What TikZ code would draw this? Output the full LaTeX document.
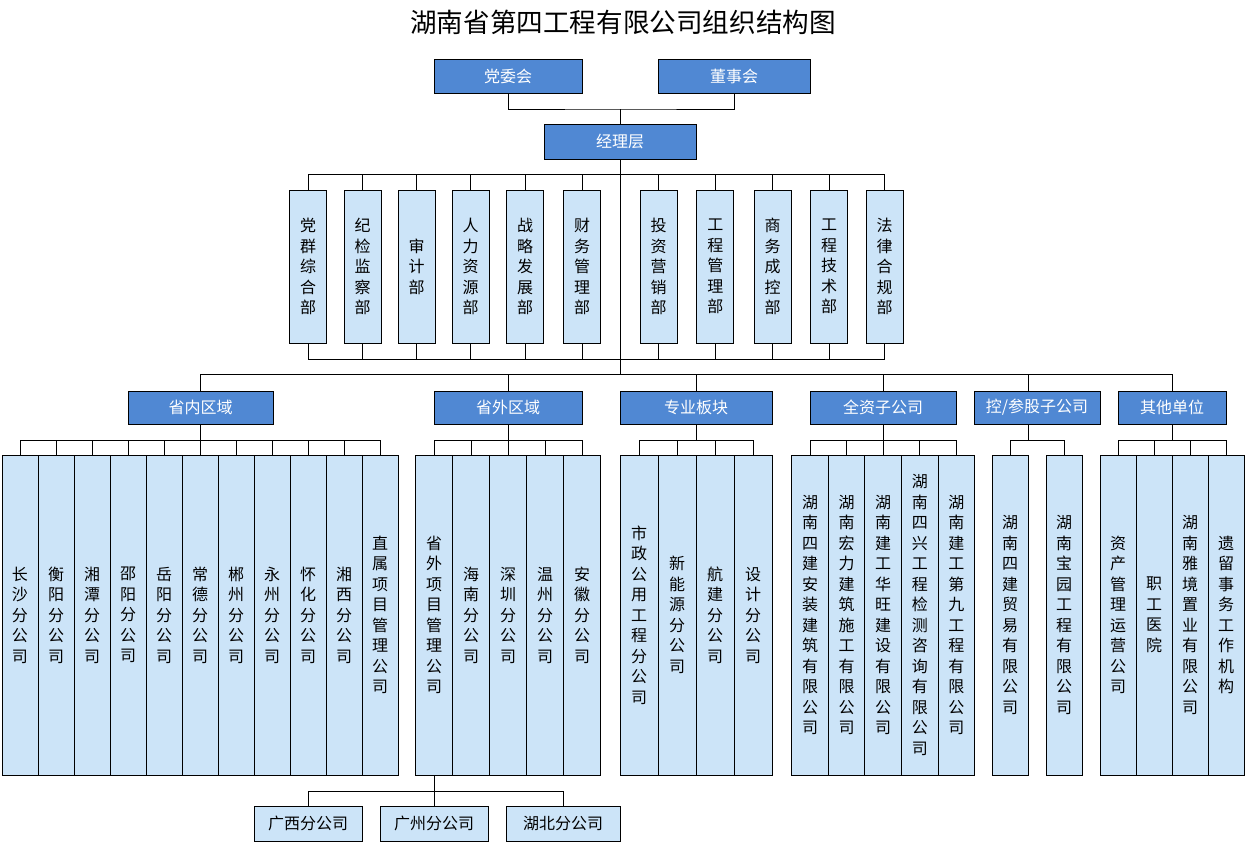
\documentclass[tikz,border=0pt]{standalone}
\usepackage{fontspec}
\setmainfont{Noto Sans CJK SC}
\usetikzlibrary{positioning}
\definecolor{headblue}{RGB}{80,136,211}
\definecolor{leafblue}{RGB}{204,228,248}

\begin{document}
\begin{tikzpicture}[x=1pt, y=-1pt, line width=1pt,
    head/.style={draw, rectangle, fill=headblue, text=white, inner sep=0pt, minimum height=34pt, font=\fontsize{16}{19}\selectfont},
    vbox/.style={draw, rectangle, fill=leafblue, inner sep=0pt, minimum width=36pt, align=center, font=\fontsize{16}{20.5}\selectfont},
    subbox/.style={draw, rectangle, fill=leafblue, inner sep=0pt, minimum height=35pt, font=\fontsize{16}{19}\selectfont}]
    \useasboundingbox (0,0) rectangle (1247,844);
    % Organisation chart
    \node[font=\fontsize{26.6}{30}\selectfont] (title) at (623,22) {湖南省第四工程有限公司组织结构图};

    \node[head, minimum width=148pt] (dw) at (508,76) {党委会};
    \node[head, minimum width=152pt] (dsh) at (734,76) {董事会};
    \node[head, minimum width=152pt, minimum height=35pt] (jl) at (620,141.5) {经理层};

    \coordinate (top) at (620,109);
    \coordinate (dtop) at (620,174);
    \coordinate (dbot) at (620,359);
    \coordinate (mid) at (620,374);
    \coordinate (sb) at (620,440);
    \coordinate (bb) at (620,791);

    \draw (dw.south) |- (top) -| (dsh.south);
    \draw (top) -- (jl.north);
    \draw (jl.south) -- (mid);

    % departments
    \foreach \x/\t [count=\i] in {308/{党\\群\\综\\合\\部}, 362.5/{纪\\检\\监\\察\\部}, 416.5/{审\\计\\部},
        470.5/{人\\力\\资\\源\\部}, 525/{战\\略\\发\\展\\部}, 582/{财\\务\\管\\理\\部},
        658.5/{投\\资\\营\\销\\部}, 715.3/{工\\程\\管\\理\\部}, 772.5/{商\\务\\成\\控\\部},
        829/{工\\程\\技\\术\\部}, 884.5/{法\\律\\合\\规\\部}}
        \node[vbox, minimum width=37pt, minimum height=153pt] (d\i) at (\x,266.5) {\t};
    \draw (d1.north |- dtop) -- (d11.north |- dtop);
    \draw (d1.south |- dbot) -- (d11.south |- dbot);
    \foreach \i in {1,...,11} {
        \draw (d\i.north) -- (d\i.north |- dtop);
        \draw (d\i.south) -- (d\i.south |- dbot);
    }

    % regions
    \node[head, minimum width=145pt, minimum height=33pt] (r1) at (200.5,407.5) {省内区域};
    \node[head, minimum width=148pt, minimum height=33pt] (r2) at (508,407.5) {省外区域};
    \node[head, minimum width=152pt, minimum height=33pt] (r3) at (696,407.5) {专业板块};
    \node[head, minimum width=146pt, minimum height=33pt] (r4) at (883,407.5) {全资子公司};
    \node[head, minimum width=126pt, minimum height=33pt] (r5) at (1037,407.5) {控/参股子公司};
    \node[head, minimum width=108pt, minimum height=33pt] (r6) at (1172,407.5) {其他单位};
    \coordinate (r5n) at ([xshift=-9pt]r5.north);
    \coordinate (r5s) at ([xshift=-9pt]r5.south);

    \draw (r1.north |- mid) -- (r6.north |- mid);
    \foreach \i in {1,2,3,4,6}
        \draw (r\i.north) -- (r\i.north |- mid);
    \draw (r5n) -- (r5n |- mid);

    % leaves
    \foreach \t [count=\i] in {{长\\沙\\分\\公\\司}, {衡\\阳\\分\\公\\司}, {湘\\潭\\分\\公\\司},
        {邵\\阳\\分\\公\\司}, {岳\\阳\\分\\公\\司}, {常\\德\\分\\公\\司}, {郴\\州\\分\\公\\司},
        {永\\州\\分\\公\\司}, {怀\\化\\分\\公\\司}, {湘\\西\\分\\公\\司}, {直\\属\\项\\目\\管\\理\\公\\司}}
        \node[vbox, minimum height=320pt] (a\i) at ({20+36*(\i-1)},615) {\t};
    \foreach \t [count=\i] in {{省\\外\\项\\目\\管\\理\\公\\司}, {海\\南\\分\\公\\司}, {深\\圳\\分\\公\\司},
        {温\\州\\分\\公\\司}, {安\\徽\\分\\公\\司}}
        \node[vbox, minimum width=37pt, minimum height=320pt] (b\i) at ({434+37*(\i-1)},615) {\t};
    \foreach \t [count=\i] in {{市\\政\\公\\用\\工\\程\\分\\公\\司}, {新\\能\\源\\分\\公\\司},
        {航\\建\\分\\公\\司}, {设\\计\\分\\公\\司}}
        \node[vbox, minimum width=38pt, minimum height=320pt] (c\i) at ({639+38*(\i-1)},615) {\t};
    \foreach \t [count=\i] in {{湖\\南\\四\\建\\安\\装\\建\\筑\\有\\限\\公\\司}, {湖\\南\\宏\\力\\建\\筑\\施\\工\\有\\限\\公\\司},
        {湖\\南\\建\\工\\华\\旺\\建\\设\\有\\限\\公\\司}, {湖\\南\\四\\兴\\工\\程\\检\\测\\咨\\询\\有\\限\\公\\司},
        {湖\\南\\建\\工\\第\\九\\工\\程\\有\\限\\公\\司}}
        \node[vbox, minimum width=36.6pt, minimum height=320pt] (e\i) at ({810+36.6*(\i-1)},615) {\t};
    \node[vbox, minimum height=320pt] (f1) at (1010,615) {湖\\南\\四\\建\\贸\\易\\有\\限\\公\\司};
    \node[vbox, minimum height=320pt] (f2) at (1064,615) {湖\\南\\宝\\园\\工\\程\\有\\限\\公\\司};
    \foreach \t [count=\i] in {{资\\产\\管\\理\\运\\营\\公\\司}, {职\\工\\医\\院},
        {湖\\南\\雅\\境\\置\\业\\有\\限\\公\\司}, {遗\\留\\事\\务\\工\\作\\机\\构}}
        \node[vbox, minimum height=320pt] (g\i) at ({1118+36*(\i-1)},615) {\t};

    \draw (r1.south) -- (r1.south |- sb);
    \draw (a1.north |- sb) -- (a11.north |- sb);
    \foreach \i in {1,...,11}
        \draw (a\i.north) -- (a\i.north |- sb);
    \draw (r2.south) -- (r2.south |- sb);
    \draw (b1.north |- sb) -- (b5.north |- sb);
    \foreach \i in {1,...,5}
        \draw (b\i.north) -- (b\i.north |- sb);
    \draw (r3.south) -- (r3.south |- sb);
    \draw (c1.north |- sb) -- (c4.north |- sb);
    \foreach \i in {1,...,4}
        \draw (c\i.north) -- (c\i.north |- sb);
    \draw (r4.south) -- (r4.south |- sb);
    \draw (e1.north |- sb) -- (e5.north |- sb);
    \foreach \i in {1,...,5}
        \draw (e\i.north) -- (e\i.north |- sb);
    \draw (r5s) -- (r5s |- sb);
    \draw (f1.north |- sb) -- (f2.north |- sb);
    \foreach \i in {1,2}
        \draw (f\i.north) -- (f\i.north |- sb);
    \draw (r6.south) -- (r6.south |- sb);
    \draw (g1.north |- sb) -- (g4.north |- sb);
    \foreach \i in {1,...,4}
        \draw (g\i.north) -- (g\i.north |- sb);

    % branches under the out-of-province office
    \node[subbox, minimum width=108pt] (h1) at (308,823.5) {广西分公司};
    \node[subbox, minimum width=108pt] (h2) at (434,823.5) {广州分公司};
    \node[subbox, minimum width=114pt] (h3) at (563,823.5) {湖北分公司};
    \draw (b1.south) -- (b1.south |- bb);
    \draw (h1.north |- bb) -- (h3.north |- bb);
    \foreach \i in {1,2,3}
        \draw (h\i.north) -- (h\i.north |- bb);
\end{tikzpicture}
\end{document}
